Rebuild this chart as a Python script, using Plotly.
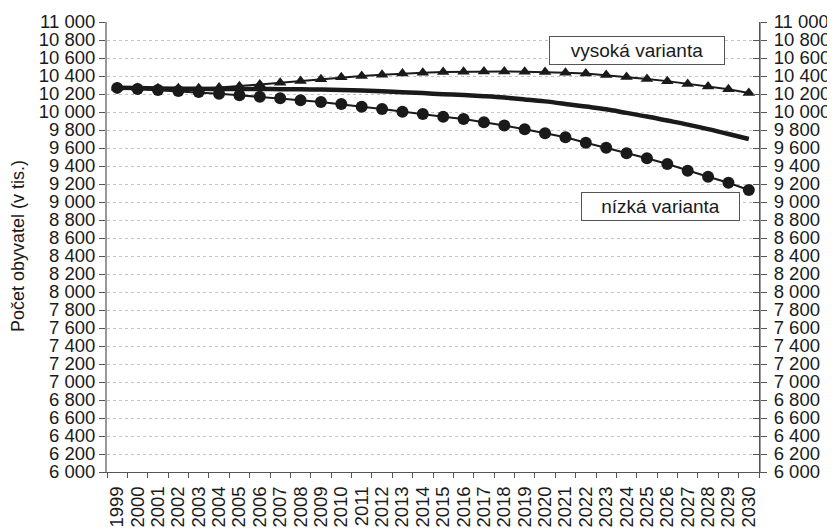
import plotly.graph_objects as go

years = [str(y) for y in range(1999, 2031)]

high = [10270, 10268, 10265, 10263, 10265, 10272, 10285, 10305, 10325, 10345,
        10365, 10385, 10400, 10415, 10428, 10437, 10444, 10448, 10450, 10450,
        10448, 10445, 10437, 10428, 10410, 10388, 10367, 10343, 10312, 10283,
        10252, 10210]

middle = [10270, 10266, 10262, 10259, 10257, 10256, 10255, 10255, 10254, 10252,
          10249, 10245, 10238, 10230, 10220, 10210, 10198, 10188, 10175, 10160,
          10140, 10118, 10090, 10060, 10030, 9990, 9950, 9905, 9860, 9810,
          9755, 9700]

low = [10268, 10256, 10244, 10233, 10222, 10203, 10186, 10170, 10152, 10130,
       10111, 10089, 10059, 10033, 10003, 9978, 9948, 9922, 9887, 9850,
       9808, 9763, 9719, 9659, 9603, 9541, 9486, 9422, 9348, 9281,
       9214, 9133]

y_ticks = list(range(6000, 11001, 200))
y_labels = [f"{v:,}".replace(",", " ") for v in y_ticks]

FONT = "Liberation Sans, Arial, sans-serif"
BLACK = "#1a1a1a"

# page has an 8px body margin; figure sized to fit the 835x530 window
W, H = 827, 522
L, R, T, B = 99, 76, 14, 58
PW = W - L - R
PH = H - T - B


def px(xs):
    return (xs - 8 - L) / PW


def py(ys):
    return (H - B - (ys - 8)) / PH


fig = go.Figure()
fig.add_trace(go.Scatter(x=years, y=middle, mode="lines",
                         line=dict(color=BLACK, width=4.5, shape="spline"),
                         hoverinfo="skip", showlegend=False))
fig.add_trace(go.Scatter(x=years, y=high, mode="lines+markers",
                         line=dict(color=BLACK, width=2),
                         marker=dict(symbol="triangle-up", size=11, color=BLACK),
                         showlegend=False))
fig.add_trace(go.Scatter(x=years, y=low, mode="lines+markers",
                         line=dict(color=BLACK, width=2),
                         marker=dict(symbol="circle", size=12, color=BLACK),
                         showlegend=False))
# invisible trace to activate the right-hand axis
fig.add_trace(go.Scatter(x=years, y=middle, yaxis="y2", mode="lines",
                         line=dict(width=0), opacity=0, hoverinfo="skip",
                         showlegend=False))

fig.update_layout(
    width=W, height=H,
    margin=dict(l=L, r=R, t=T, b=B),
    paper_bgcolor="white", plot_bgcolor="white",
    font=dict(family=FONT, size=18.5, color=BLACK),
    xaxis=dict(type="category", range=[-0.5, 31.5], tickangle=-90,
               tickmode="array", tickvals=years, ticktext=years,
               automargin=False,
               showgrid=False, showline=True, linecolor="#555", linewidth=1,
               ticks="outside", ticklen=5, tickcolor="#555",
               tickson="boundaries", ticklabelstandoff=6,
               tickfont=dict(size=18.5)),
    yaxis=dict(range=[6000, 11000], tickvals=y_ticks, ticktext=y_labels,
               automargin=False,
               showgrid=True, gridcolor="#c4c4c4", griddash="dot", gridwidth=1,
               showline=True, linecolor="#999", linewidth=2, mirror="ticks",
               ticks="outside", ticklen=6, tickcolor="#555",
               zeroline=False, tickfont=dict(size=18.5)),
    yaxis2=dict(range=[6000, 11000], tickvals=y_ticks, ticktext=y_labels,
                overlaying="y", side="right", showgrid=False, automargin=False,
                showline=True, linecolor="#555", linewidth=1,
                ticks="inside", ticklen=6, tickcolor="#555",
                ticklabelstandoff=10,
                zeroline=False, tickfont=dict(size=18.5)),
    annotations=[
        dict(text="Počet obyvatel (v tis.)", xref="paper", yref="paper",
             x=px(18), y=py(246), textangle=-90, showarrow=False,
             font=dict(size=18, color=BLACK), xanchor="center", yanchor="middle"),
        dict(text="vysoká varianta", xref="paper", yref="paper",
             x=px(636.5), y=py(50.8), showarrow=False,
             xanchor="center", yanchor="middle", bgcolor="white",
             bordercolor="#555", borderwidth=1, width=172, height=25,
             font=dict(size=19, color=BLACK)),
        dict(text="nízká varianta", xref="paper", yref="paper",
             x=px(660), y=py(206.3), showarrow=False,
             xanchor="center", yanchor="middle", bgcolor="white",
             bordercolor="#555", borderwidth=1, width=155, height=25,
             font=dict(size=19, color=BLACK)),
    ],
)

fig.write_html("out.html")
